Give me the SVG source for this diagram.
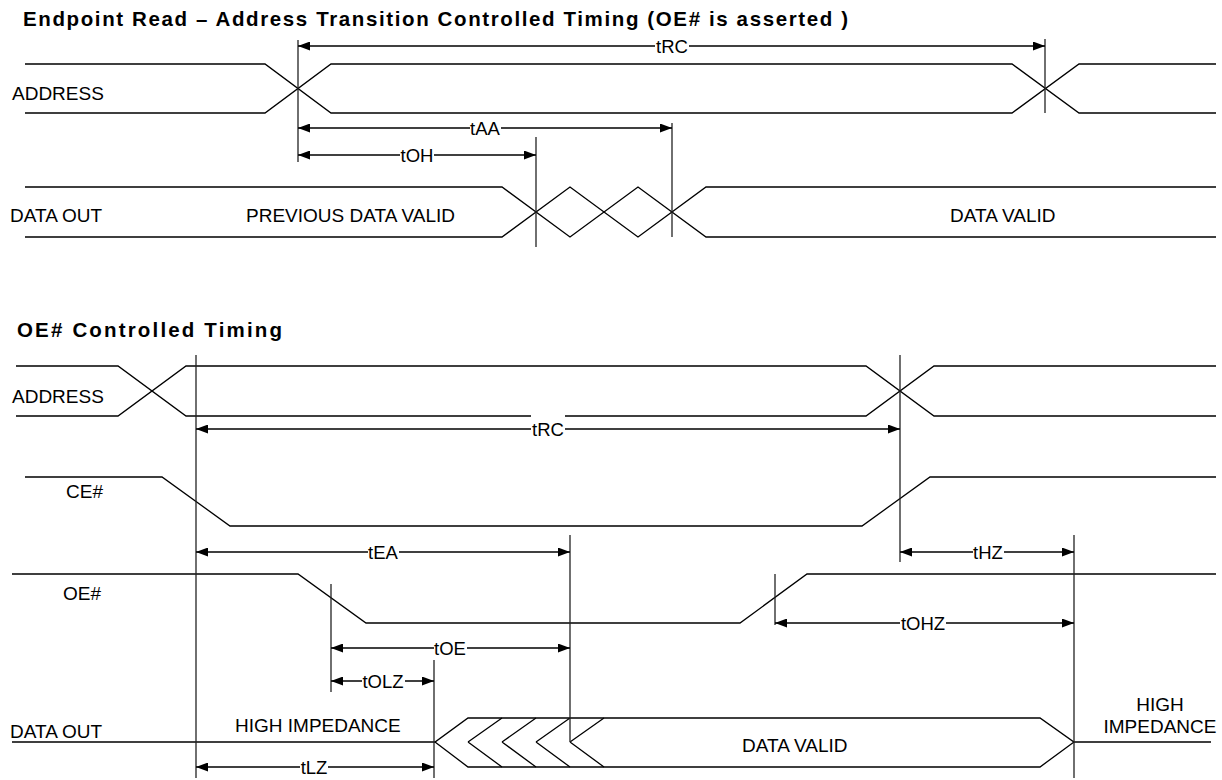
<svg xmlns="http://www.w3.org/2000/svg" width="1222" height="780" viewBox="0 0 1222 780">
<defs>
<style>
.sig{fill:none;stroke:#000;stroke-width:1.3;stroke-linejoin:miter}
.ref{stroke:#222;stroke-width:1.3}
.dim{stroke:#000;stroke-width:1.3;marker-start:url(#ah);marker-end:url(#ah)}
.t{font-family:"Liberation Sans",Arial,sans-serif;font-size:19px;fill:#000}
.lb{font-family:"Liberation Sans",Arial,sans-serif;font-size:18.5px;fill:#000;text-anchor:middle}
.ttl{font-family:"Liberation Sans",Arial,sans-serif;font-size:20.5px;font-weight:bold;fill:#000}
.bg{fill:#fff}
</style>
<marker id="ah" viewBox="0 0 12 9" refX="12" refY="4.5" markerWidth="12" markerHeight="9" markerUnits="userSpaceOnUse" orient="auto-start-reverse">
<path d="M0,0 L12,4.5 L0,9 z" fill="#000"/>
</marker>
</defs>
<rect width="1222" height="780" fill="#fff"/>

<text class="ttl" x="23" y="26" textLength="825" lengthAdjust="spacing">Endpoint Read – Address Transition Controlled Timing (OE# is asserted )</text>
<text class="ttl" x="17" y="337" textLength="265" lengthAdjust="spacing">OE# Controlled Timing</text>

<!-- Top section signals -->
<g id="addr1">
<path class="sig" d="M25,64 H265 L331,113 H1012 L1079,64 H1216"/>
<path class="sig" d="M25,113 H265 L331,64 H1012 L1079,113 H1216"/>
<text class="t" x="12" y="100">ADDRESS</text>
</g>
<g id="data1">
<path class="sig" d="M25,187 H502 L570,237 L638,187 L706,237 H1216"/>
<path class="sig" d="M25,237 H502 L570,187 L638,237 L706,187 H1216"/>
<text class="t" x="10" y="222">DATA OUT</text>
<text class="t" x="246" y="222">PREVIOUS DATA VALID</text>
<text class="t" x="950" y="222">DATA VALID</text>
</g>

<!-- Bottom section signals -->
<g id="addr2">
<path class="sig" d="M16,366 H118 L186,416 H866 L934,366 H1216"/>
<path class="sig" d="M16,416 H118 L186,366 H866 L934,416 H1216"/>
<text class="t" x="12" y="403">ADDRESS</text>
</g>
<g id="ce">
<path class="sig" d="M25,477 H162 L230,526 H862 L930,477 H1216"/>
<text class="t" x="66" y="498">CE#</text>
</g>
<g id="oe">
<path class="sig" d="M12,574 H298 L366,623 H740 L807,574 H1216"/>
<text class="t" x="63" y="600">OE#</text>
</g>
<g id="data2">
<path class="sig" d="M12,742 H435 L468,718 H1040 L1074,742 H1211"/>
<path class="sig" d="M435,742 L468,767 H1040 L1074,742"/>
<path class="sig" d="M468,742 L502,718 M468,742 L502,767 M502,742 L536,718 M502,742 L536,767 M536,742 L570,718 M536,742 L570,767 M570,742 L604,718 M570,742 L604,767"/>
<text class="t" x="10" y="738">DATA OUT</text>
<text class="t" x="235" y="732">HIGH IMPEDANCE</text>
<text class="t" x="742" y="752">DATA VALID</text>
<text class="t" x="1160" y="711" text-anchor="middle">HIGH</text>
<text class="t" x="1160" y="733" text-anchor="middle">IMPEDANCE</text>
</g>

<g id="connectors">
<line class="ref" x1="298" y1="40" x2="298" y2="162"/>
<line class="ref" x1="1045" y1="39" x2="1045" y2="113"/>
<line class="ref" x1="672" y1="123" x2="672" y2="237"/>
<line class="ref" x1="536" y1="137" x2="536" y2="247"/>
<line class="ref" x1="196" y1="355" x2="196" y2="778"/>
<line class="ref" x1="900" y1="355" x2="900" y2="562"/>
<line class="ref" x1="570" y1="535" x2="570" y2="742"/>
<line class="ref" x1="1074" y1="535" x2="1074" y2="778"/>
<line class="ref" x1="331" y1="584" x2="331" y2="692"/>
<line class="ref" x1="775" y1="574" x2="775" y2="625"/>
<line class="ref" x1="434" y1="660" x2="434" y2="778"/>

<line class="dim" x1="298" y1="46" x2="1045" y2="46"/>
<line class="dim" x1="298" y1="128" x2="672" y2="128"/>
<line class="dim" x1="298" y1="155" x2="536" y2="155"/>
<line class="dim" x1="196" y1="429" x2="900" y2="429"/>
<line class="dim" x1="196" y1="552" x2="570" y2="552"/>
<line class="dim" x1="900" y1="552" x2="1074" y2="552"/>
<line class="dim" x1="775" y1="623" x2="1074" y2="623"/>
<line class="dim" x1="331" y1="648" x2="570" y2="648"/>
<line class="dim" x1="331" y1="681" x2="434" y2="681"/>
<line class="dim" x1="196" y1="767" x2="434" y2="767"/>

<rect class="bg" x="655" y="34" width="34" height="24"/><text class="lb" x="672" y="53">tRC</text>
<rect class="bg" x="470" y="116" width="31" height="24"/><text class="lb" x="485" y="135">tAA</text>
<rect class="bg" x="400" y="143" width="34" height="24"/><text class="lb" x="417" y="162">tOH</text>
<rect class="bg" x="531" y="415" width="34" height="27"/><text class="lb" x="548" y="436">tRC</text>
<rect class="bg" x="368" y="540" width="31" height="24"/><text class="lb" x="383" y="559">tEA</text>
<rect class="bg" x="973" y="540" width="31" height="24"/><text class="lb" x="988" y="559">tHZ</text>
<rect class="bg" x="900" y="611" width="46" height="24"/><text class="lb" x="923" y="630">tOHZ</text>
<rect class="bg" x="434" y="636" width="33" height="24"/><text class="lb" x="450" y="655">tOE</text>
<rect class="bg" x="362" y="669" width="43" height="24"/><text class="lb" x="383" y="688">tOLZ</text>
<rect class="bg" x="300" y="755" width="28" height="24"/><text class="lb" x="314" y="774">tLZ</text>
</g>
</svg>
